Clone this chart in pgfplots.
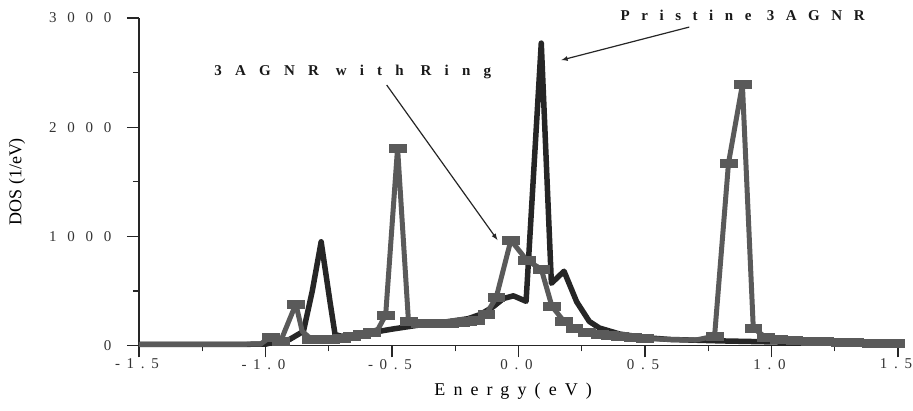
\documentclass[border=0pt]{standalone}
\usepackage{fontspec}
\setmainfont{Liberation Serif}
\newfontfamily\ytickfont[LetterSpace=72]{Liberation Serif}
\newfontfamily\xtickfont[LetterSpace=45]{Liberation Serif}
\newfontfamily\annfontA[LetterSpace=88]{Liberation Serif}
\newfontfamily\annfontB[LetterSpace=77]{Liberation Serif}
\newfontfamily\xlabfont[LetterSpace=45]{Liberation Serif}
\usepackage{pgfplots}
\pgfplotsset{compat=1.18}
\definecolor{pristine}{HTML}{262626}
\definecolor{ringc}{HTML}{5A5A5A}

\pgfplotstableread{
x y
-1.50 10
-1.20 10
-1.00 12
-0.95 40
-0.905 55
-0.85 130
-0.815 500
-0.78 950
-0.745 400
-0.725 100
-0.70 85
-0.60 110
-0.50 150
-0.40 185
-0.30 212
-0.20 245
-0.15 285
-0.10 355
-0.06 430
-0.02 455
0.03 405
0.09 2770
0.13 570
0.18 680
0.23 400
0.28 220
0.32 160
0.40 105
0.50 72
0.60 55
0.80 42
1.00 33
1.20 25
1.50 15
}\pristinetab

% ring series: line through all points
\pgfplotstableread{
x y
-1.50 10
-1.20 10
-1.02 12
-0.98 80
-0.94 40
-0.88 380
-0.855 130
-0.82 60
-0.78 58
-0.74 62
-0.70 70
-0.66 82
-0.62 100
-0.58 125
-0.555 150
-0.525 280
-0.478 1810
-0.435 225
-0.39 200
-0.35 200
-0.31 200
-0.27 205
-0.23 210
-0.20 218
-0.167 235
-0.128 285
-0.088 440
-0.03 965
0.033 780
0.09 700
0.132 360
0.18 220
0.22 160
0.27 125
0.32 105
0.40 85
0.50 65
0.60 55
0.70 50
0.775 85
0.83 1670
0.885 2390
0.928 160
0.978 72
1.05 50
1.20 35
1.35 25
1.50 20
}\ringtab

% ring series: the points that carry a marker
\pgfplotstableread{
x y
-0.98 80
-0.94 40
-0.88 380
-0.82 60
-0.78 58
-0.74 62
-0.70 70
-0.66 82
-0.62 100
-0.58 125
-0.525 280
-0.478 1810
-0.435 225
-0.39 200
-0.35 200
-0.31 200
-0.27 205
-0.23 210
-0.20 218
-0.167 235
-0.128 285
-0.088 440
-0.03 965
0.033 780
0.09 700
0.132 360
0.18 220
0.22 160
0.27 125
0.32 105
0.36 95
0.40 85
0.45 75
0.50 65
0.775 85
0.83 1670
0.885 2390
0.928 160
0.978 72
1.03 55
1.09 48
1.15 40
1.21 35
1.27 30
1.33 27
1.39 24
1.45 21
1.49 20
}\ringmarks

\begin{document}
\begin{tikzpicture}
\useasboundingbox (-139pt,-65.5pt) rectangle (774pt,345.5pt);
\begin{axis}[
  scale only axis, width=759pt, height=327.5pt,
  xmin=-1.5, xmax=1.5, ymin=0, ymax=3000,
  axis lines=left,
  axis line style={-, line width=1.6pt, black!85},
  clip=false,
  xtick={-1.5,-1,-0.5,0,0.5,1,1.5},
  xticklabels={-1.5,-1.0,-0.5,0.0,0.5,1.0,1.5},
  minor xtick={-1.25,-0.75,-0.25,0.25,0.75,1.25},
  ytick={0,1000,2000,3000},
  yticklabels={0,1000,2000,3000},
  minor ytick={500,1500,2500},
  tick align=outside,
  major tick length=12pt, minor tick length=6pt,
  tick style={line width=1.2pt, black!85},
  yticklabel style={font=\ytickfont\fontsize{15}{18}\selectfont, text=black!80, xshift=-12pt},
  xticklabel style={font=\xtickfont\fontsize{15}{18}\selectfont, text=black!80, yshift=2pt, xshift=-2pt},
  every axis x label/.style={at={(axis description cs:0.493,0)}, anchor=center, yshift=-45.5pt},
  every axis y label/.style={at={(axis description cs:-0.1607,0.5)}, rotate=90, anchor=center},
  xlabel={\xlabfont\fontsize{18}{20}\selectfont Energy(eV)},
  ylabel={\fontsize{18}{20}\selectfont DOS (1/eV)},
]
\addplot[pristine, line width=5.5pt, line join=round, no markers] table {\pristinetab};
\addplot[ringc, line width=5pt, line join=round, no markers] table {\ringtab};
\addplot[only marks, mark=square*, mark size=4pt,
  mark options={xscale=2.1, solid, fill=ringc, draw=ringc}] table {\ringmarks};

\node[font=\annfontA\bfseries\fontsize{15}{18}\selectfont, text=black!90] at (axis cs:-0.655,2505) {3AGNR with Ring};
\node[font=\annfontB\bfseries\fontsize{15}{18}\selectfont, text=black!90] at (axis cs:0.886,3027) {Pristine 3AGNR};
\draw[-latex, line width=1.2pt, black!85] (axis cs:-0.521,2386) -- (axis cs:-0.083,966);
\draw[-latex, line width=1.2pt, black!85] (axis cs:0.675,2917) -- (axis cs:0.169,2614);
\end{axis}
\end{tikzpicture}
\end{document}
